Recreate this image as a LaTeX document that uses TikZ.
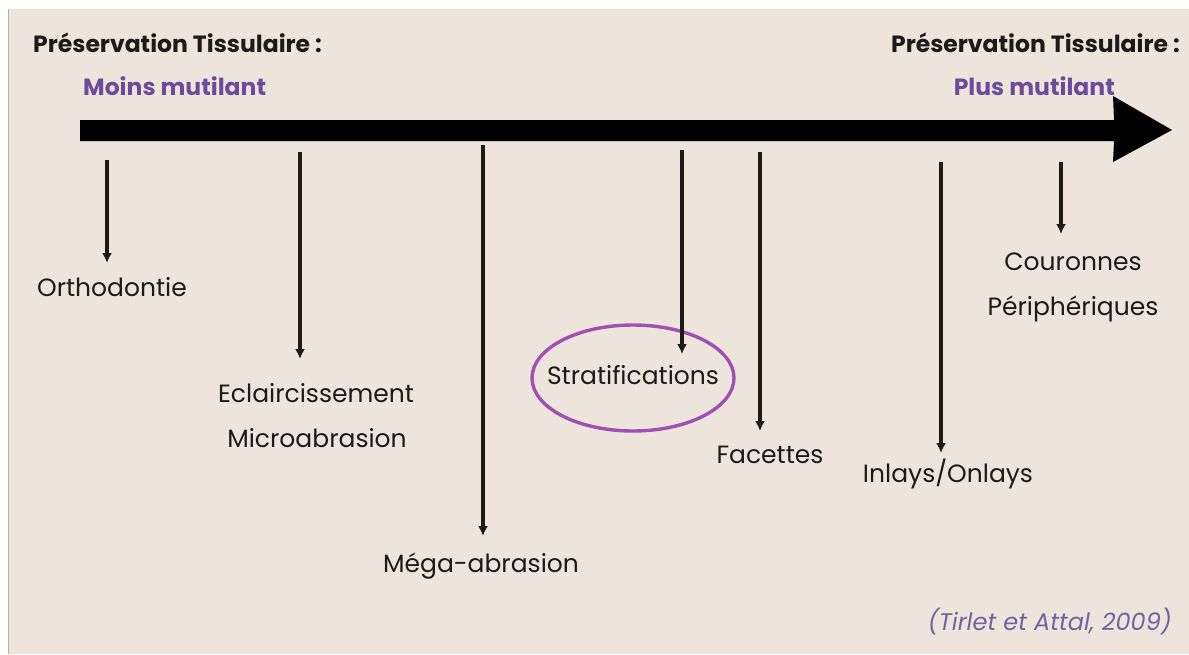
\documentclass[tikz,border=0pt]{standalone}
\usepackage{fontspec}
\setmainfont{Poppins}
\usetikzlibrary{shapes.geometric,arrows.meta}
\definecolor{bg}{HTML}{EDE5DC}
\definecolor{txt}{HTML}{1E1A18}
\definecolor{purp}{HTML}{6E4A9C}
\definecolor{circ}{HTML}{A04FB2}
\definecolor{cite}{HTML}{7A5FA0}
\begin{document}
\begin{tikzpicture}[x=1pt,y=-1pt,
  lbl/.style={anchor=base,inner sep=0pt,text=txt,font=\fontsize{25}{30}\selectfont},
  ttl/.style={inner sep=0pt,text=txt,font=\fontsize{23.5}{28}\selectfont\bfseries},
  sub/.style={inner sep=0pt,text=purp,font=\fontsize{23.5}{28}\selectfont\bfseries},
  down/.style={draw=txt,line width=3.2pt,-{Latex[length=10pt,width=10pt]}}]
\useasboundingbox (0,0) rectangle (1189,654);
\fill[white] (0,0) rectangle (1189,654);
\fill[bg] (8,9) rectangle (1189,654);
\draw[gray!60,line width=1pt] (8.5,9) -- (8.5,654);
% titles
\node[ttl,anchor=base west] (t1) at (33,52) {Préservation Tissulaire :};
\node[ttl,anchor=base east] (t2) at (1180,52) {Préservation Tissulaire :};
\node[sub,anchor=base west] (s1) at (83,95) {Moins mutilant};
\node[sub,anchor=base east] (s2) at (1115,95) {Plus mutilant};
% big arrow
\fill[black] (80,120) -- (1114,120) -- (1113,96) -- (1172,130) -- (1113,162) -- (1114,141) -- (80,141) -- cycle;
% labels
\node[lbl] (orth) at (112,296) {Orthodontie};
\node[lbl] (ecl) at (316,402) {Eclaircissement};
\node[lbl] (micro) at (317,447) {Microabrasion};
\node[lbl] (mega) at (481,572) {Méga-abrasion};
\node[lbl] (strat) at (633,384) {Stratifications};
\node[lbl] (fac) at (770,463) {Facettes};
\node[lbl] (inl) at (948,482) {Inlays/Onlays};
\node[lbl] (cour) at (1073,270) {Couronnes};
\node[lbl] (peri) at (1073,315) {Périphériques};
\node[draw=circ,line width=3.4pt,ellipse,minimum width=202pt,minimum height=106pt] (ell) at (633,378) {};
% arrows
\coordinate (a1) at (107,160); \coordinate (b1) at (107,263);
\coordinate (a2) at (300,152); \coordinate (b2) at (300,359);
\coordinate (a3) at (483,145); \coordinate (b3) at (483,536);
\coordinate (a4) at (682,150); \coordinate (b4) at (682,354);
\coordinate (a5) at (760,152); \coordinate (b5) at (760,431);
\coordinate (a6) at (941,162); \coordinate (b6) at (941,453);
\coordinate (a7) at (1061,162); \coordinate (b7) at (1061,234);
\foreach \i in {1,...,7} {\draw[down] (a\i) -- (b\i);}
\node[inner sep=0pt,anchor=base east,text=cite,font=\fontsize{24}{28}\selectfont\itshape] (cit) at (1172,630) {(Tirlet et Attal, 2009)};
\end{tikzpicture}
\end{document}
